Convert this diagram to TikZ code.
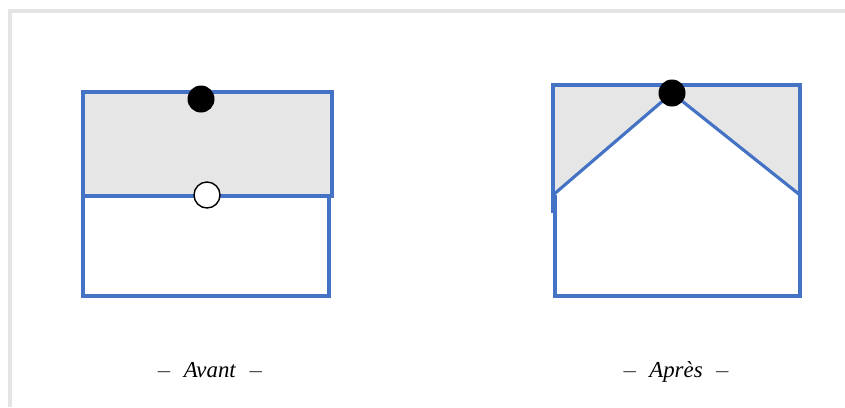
\documentclass[tikz,border=0pt]{standalone}
\usepackage{fontspec}
\setmainfont{Liberation Serif}
\usepackage{tikz}
\usetikzlibrary{positioning,calc}
\definecolor{wallblue}{RGB}{68,114,196}
\definecolor{shadegray}{RGB}{230,230,230}
\definecolor{framegray}{RGB}{228,228,228}

\begin{document}
\begin{tikzpicture}[x=0.02cm, y=-0.02cm,
      wall/.style={draw=wallblue, line width=1.8pt},
      shade/.style={fill=shadegray},
      pin/.style={circle, fill=black, inner sep=0pt, minimum size=0.54cm},
      hole/.style={circle, draw=black, fill=white, line width=0.8pt, inner sep=0pt, minimum size=0.52cm},
      caption/.style={anchor=base, font=\fontsize{13}{15}\selectfont}
    ]
    \useasboundingbox (0,0) rectangle (845,407);
    \draw[framegray, line width=2pt] (10,407) -- (10,11) -- (845,11);

    % avant
    \draw[wall, shade] (83,92) rectangle (332,196);
    \draw[wall] (83,196) rectangle (329,296);
    \node[pin] (pinA) at (201,99) {};
    \node[hole] (holeA) at (207,195) {};
    \node[caption] (capA) at (210,377) {$-$\enspace\textit{Avant}\enspace$-$};

    % apres
    \coordinate (tl) at (553,85);
    \coordinate (tr) at (800,85);
    \coordinate (ml) at (553,195);
    \coordinate (mr) at (800,195);
    \coordinate (apex) at (672,93);
    \fill[shadegray] (tl) -- (tr) -- (mr) -- (apex) -- (ml) -- cycle;
    \draw[wall] (553,213) -- (tl) -- (tr) -- (800,296) -- (555,296) -- (555,195);
    \draw[wall] (ml) -- (apex) -- (mr);
    \node[pin] (pinB) at (apex) {};
    \node[caption] (capB) at (676,377) {$-$\enspace\textit{Après}\enspace$-$};
  \end{tikzpicture}
\end{document}
